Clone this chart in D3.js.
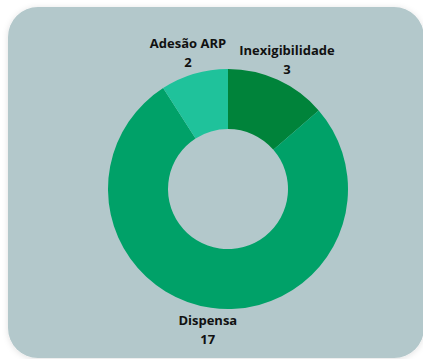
<!DOCTYPE html>
<html>
<head>
<meta charset="utf-8">
<script src="https://cdn.jsdelivr.net/npm/d3@7"></script>
<style>
  html, body { margin: 0; padding: 0; background: #ffffff; }
  svg { display: block; }
</style>
</head>
<body>
<svg id="chart" width="423" height="359"></svg>
<script>
// Procurement modality counts
const categories = ["Inexigibilidade", "Dispensa", "Adesão ARP"];
const values = [3, 17, 2];
const colors = ["#00833a", "#00a168", "#1fc29b"];

const width = 423, height = 359;
const svg = d3.select("#chart");

// soft shadow for the card
const defs = svg.append("defs");
const shadow = defs.append("filter").attr("id", "cardShadow")
  .attr("x", "-10%").attr("y", "-10%").attr("width", "120%").attr("height", "120%");
shadow.append("feDropShadow")
  .attr("dx", 0).attr("dy", 1).attr("stdDeviation", 3)
  .attr("flood-color", "#000").attr("flood-opacity", 0.12);

// card background
svg.append("rect")
  .attr("x", 8).attr("y", 7)
  .attr("width", 416).attr("height", 351)
  .attr("rx", 30).attr("ry", 30)
  .attr("fill", "#b3c8cb")
  .attr("filter", "url(#cardShadow)");

const cx = 228, cy = 189;
const outerR = 120, innerR = 60, labelR = 142;

const data = categories.map((c, i) => ({ name: c, value: values[i], color: colors[i] }));

const pie = d3.pie().value(d => d.value).sort(null);
const arcs = pie(data);

const arc = d3.arc().innerRadius(innerR).outerRadius(outerR);
const labelArc = d3.arc().innerRadius(labelR).outerRadius(labelR);

const g = svg.append("g").attr("transform", `translate(${cx},${cy})`);

g.selectAll("path.slice")
  .data(arcs)
  .join("path")
  .attr("class", "slice")
  .attr("d", arc)
  .attr("fill", d => d.data.color);

const labels = g.selectAll("g.label")
  .data(arcs)
  .join("g")
  .attr("class", "label")
  .attr("transform", d => {
    const [x, y] = labelArc.centroid(d);
    return `translate(${x},${y})`;
  });

labels.append("text")
  .attr("text-anchor", "middle")
  .attr("dominant-baseline", "central")
  .attr("y", -9.5)
  .attr("font-family", "'Open Sans', sans-serif")
  .attr("font-weight", 700)
  .attr("font-size", 13)
  .attr("fill", "#111")
  .text(d => d.data.name);

labels.append("text")
  .attr("text-anchor", "middle")
  .attr("dominant-baseline", "central")
  .attr("y", 9.5)
  .attr("font-family", "'Open Sans', sans-serif")
  .attr("font-weight", 700)
  .attr("font-size", 13)
  .attr("fill", "#111")
  .text(d => d.data.value);
</script>
</body>
</html>
